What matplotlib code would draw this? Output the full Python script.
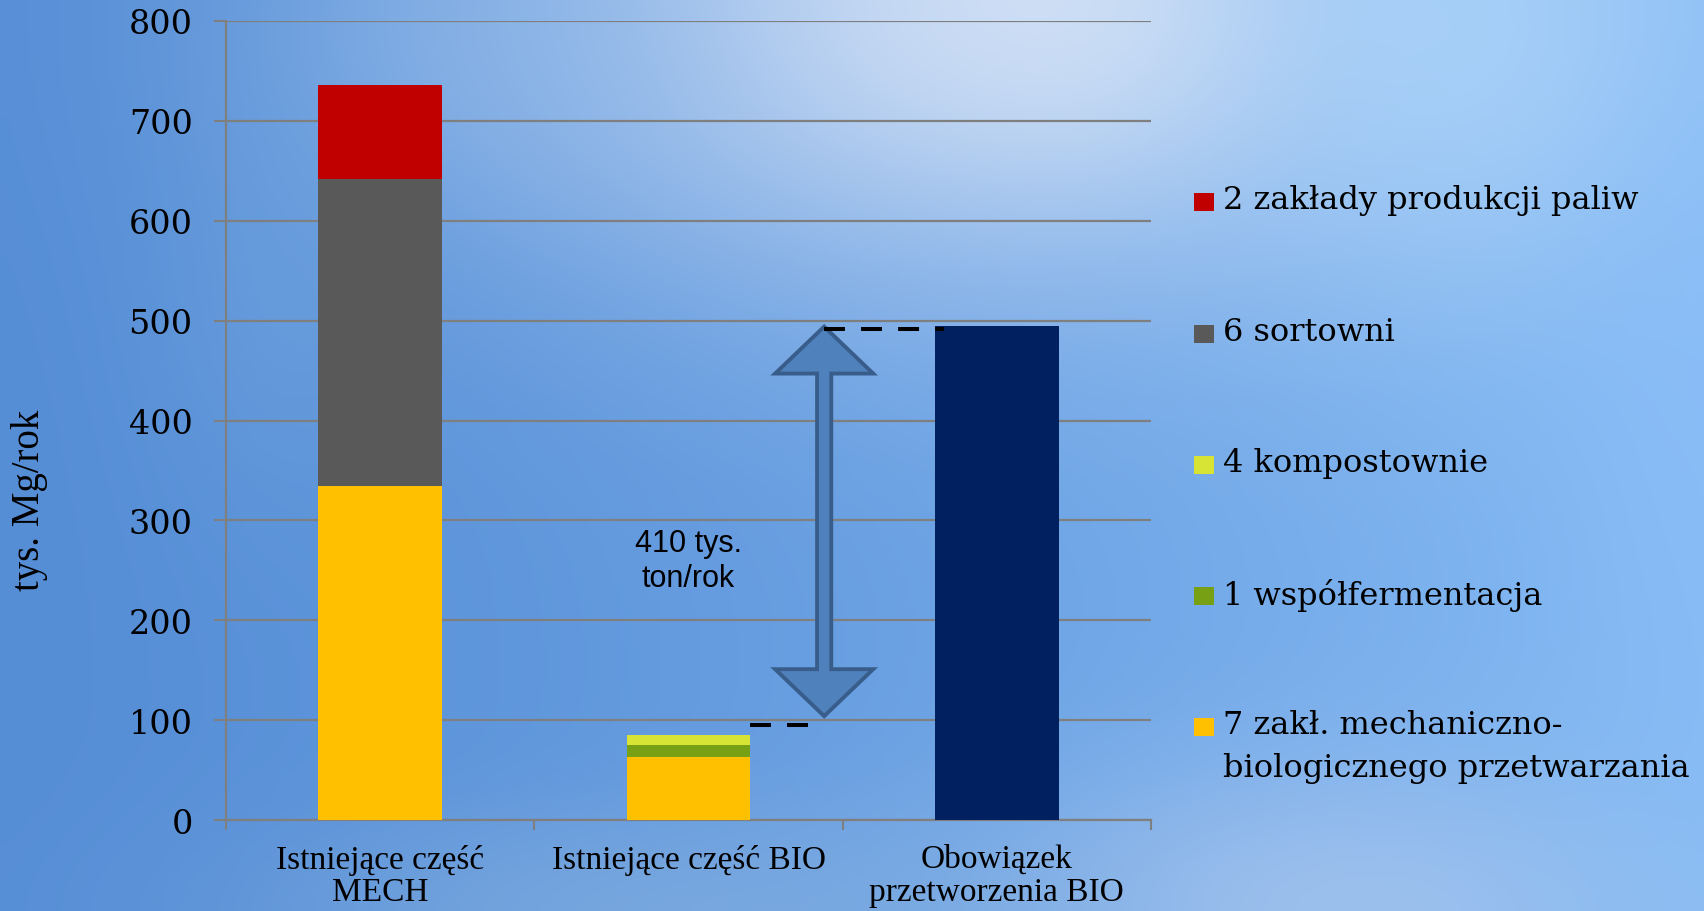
import numpy as np
import matplotlib.pyplot as plt
from matplotlib.patches import Rectangle, Polygon

# dane (tys. Mg/rok)
categories = ['Istniejące część\nMECH', 'Istniejące część BIO', 'Obowiązek\nprzetworzenia BIO']
mbp = [334, 63, 0]            # 7 zakł. mechaniczno-biologicznego przetwarzania
wspolfermentacja = [0, 12, 0]
kompostownie = [0, 10, 0]
sortownie = [308, 0, 0]
paliwa = [94, 0, 0]
obowiazek = [0, 0, 495]
yticks = [0, 100, 200, 300, 400, 500, 600, 700, 800]

series = [
    ('7 zakł. mechaniczno-\nbiologicznego przetwarzania', mbp, '#FFC000'),
    ('1 współfermentacja', wspolfermentacja, '#77A014'),
    ('4 kompostownie', kompostownie, '#D7E335'),
    ('6 sortowni', sortownie, '#595959'),
    ('2 zakłady produkcji paliw', paliwa, '#C00000'),
]
luka_label = '410 tys.\nton/rok'

W, H = 1704, 912
fig = plt.figure(figsize=(W / 100, H / 100), dpi=100)

# tło - niebieskie niebo z jaśniejszymi plamami
yy, xx = np.mgrid[0:1:228j, 0:1:426j]
left_c = np.array([86, 142, 214.0])
right_c = np.array([132, 186, 244.0])
bg = left_c + (right_c - left_c) * (xx ** 1.3)[..., None]
blobs = [
    (0.56, 0.00, 0.20, 0.22, (206, 222, 245), 0.90),
    (0.64, 0.00, 0.08, 0.12, (215, 228, 246), 0.60),
    (0.87, 0.04, 0.10, 0.20, (172, 212, 250), 0.75),
    (0.30, 0.05, 0.10, 0.12, (140, 182, 232), 0.45),
    (0.78, 1.00, 0.14, 0.12, (172, 200, 238), 0.70),
    (0.38, 1.00, 0.16, 0.08, (135, 176, 222), 0.55),
    (0.16, 0.35, 0.05, 0.15, (112, 164, 222), 0.40),
    (0.99, 0.45, 0.05, 0.25, (140, 190, 248), 0.5),
]
for cx, cy, sx, sy, col, s in blobs:
    g = s * np.exp(-0.5 * (((xx - cx) / sx) ** 2 + ((yy - cy) / sy) ** 2))[..., None]
    bg = bg * (1 - g) + np.array(col) * g
bg_ax = fig.add_axes([0, 0, 1, 1], zorder=-1)
bg_ax.imshow(bg.astype(np.uint8), aspect='auto', interpolation='bicubic', extent=[0, 1, 0, 1])
bg_ax.axis('off')

ax = fig.add_axes([226 / W, 1 - 821 / H, (1151 - 226) / W, (821 - 22) / H])
ax.patch.set_alpha(0)

x = np.arange(len(categories))
width = 0.4
bottom = np.zeros(len(categories))
for name, vals, col in series:
    ax.bar(x, vals, width, bottom=bottom, color=col, zorder=3)
    bottom += np.array(vals)
ax.bar(x, obowiazek, width, color='#002060', zorder=3)

ax.set_xlim(-0.5, 2.5)
ax.set_ylim(0, 800)
ax.set_yticks(yticks)
ax.set_yticklabels([str(v) for v in yticks], family='DejaVu Serif', fontsize=24)
ax.yaxis.grid(True, color='#7f7f7f', linewidth=1.6, zorder=0)
ax.set_axisbelow(True)

ax.set_xticks(x)
ax.set_xticklabels(categories, family='Liberation Serif', fontsize=24, linespacing=1.1)
ax.set_xticks([-0.5, 0.5, 1.5, 2.5], minor=True)
ax.tick_params(axis='x', which='major', length=0, pad=17)
ax.tick_params(axis='x', which='minor', length=7, width=1.5, color='#7f7f7f', direction='out')
ax.tick_params(axis='y', length=9, width=1.5, color='#7f7f7f', pad=15)

for side in ['top', 'right']:
    ax.spines[side].set_visible(False)
for side in ['left', 'bottom']:
    ax.spines[side].set_color('#7f7f7f')
    ax.spines[side].set_linewidth(1.6)

# strzałka pokazująca lukę między BIO a obowiązkiem
bio_total = mbp[1] + wspolfermentacja[1] + kompostownie[1]
obow_total = obowiazek[2]
arrow_x = 1.44
lower = bio_total + 10
upper = obow_total - 3
y0, y1 = lower + 9, upper + 2
hw, sw, hh = 0.159, 0.023, 47
pts = [
    (arrow_x, y1), (arrow_x + hw, y1 - hh), (arrow_x + sw, y1 - hh),
    (arrow_x + sw, y0 + hh), (arrow_x + hw, y0 + hh), (arrow_x, y0),
    (arrow_x - hw, y0 + hh), (arrow_x - sw, y0 + hh), (arrow_x - sw, y1 - hh),
    (arrow_x - hw, y1 - hh),
]
ax.add_patch(Polygon(pts, closed=True, facecolor='#4F81BD', edgecolor='#385D8A',
                     linewidth=2.8, joinstyle='miter', zorder=4))

dash = (0, (5.2, 4.0))
ax.plot([1 + width / 2, arrow_x], [lower, lower], color='black', lw=2.9,
        linestyle=dash, dash_capstyle='butt', zorder=5)
ax.plot([arrow_x, 2 - width / 2 + 0.028], [upper, upper], color='black', lw=2.9,
        linestyle=dash, dash_capstyle='butt', zorder=5)

ax.text(1.0, 260, luka_label, ha='center', va='center', family='Liberation Sans',
        fontsize=22, linespacing=1.2, zorder=5)

fig.text(30 / W, 1 - 500 / H, 'tys. Mg/rok', rotation=90, ha='center', va='center',
         family='Liberation Serif', fontsize=28)

# legenda (od góry: ostatnia seria na szczycie stosu)
legend_y = [203, 335, 466, 597, 728]
for (name, vals, col), yc in zip(series[::-1], legend_y):
    fig.patches.append(Rectangle(((1194) / W, 1 - (yc + 9) / H), 20 / W, 18 / H,
                                 facecolor=col, edgecolor='none',
                                 transform=fig.transFigure, figure=fig))
    for j, line in enumerate(name.split('\n')):
        fig.text(1223 / W, 1 - (yc - 2 + j * 43) / H, line, ha='left', va='center',
                 family='DejaVu Serif', fontsize=23)

fig.savefig('out.png', dpi=100)
